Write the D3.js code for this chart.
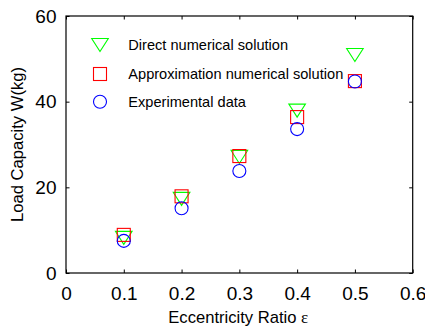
<!DOCTYPE html>
<html>
<head>
<meta charset="utf-8">
<script src="https://cdn.jsdelivr.net/npm/d3@7"></script>
<style>
html,body{margin:0;padding:0;background:#fff;}
svg{display:block;}
text{font-family:"Liberation Sans",Arial,Helvetica,sans-serif;fill:#000;}
</style>
</head>
<body>
<svg id="chart" width="425" height="326"></svg>
<script>
const ratios = [0.1, 0.2, 0.3, 0.4, 0.5];
const directNumerical = [8.2, 17.3, 27.1, 37.9, 50.9];
const approxNumerical = [8.9, 17.9, 27.3, 36.4, 44.8];
const experimental = [7.5, 15.1, 23.8, 33.6, 44.7];
const xTicks = [0, 0.1, 0.2, 0.3, 0.4, 0.5, 0.6];
const yTicks = [0, 20, 40, 60];
const seriesNames = ["Direct numerical solution", "Approximation numerical solution", "Experimental data"];

const svg = d3.select("#chart");
const L = 66, R = 412.7, T = 16, B = 273;
const x = d3.scaleLinear().domain([0, 0.6]).range([L, R]);
const y = d3.scaleLinear().domain([0, 60]).range([B, T]);

const tickLen = 3.5;
const fmtX = d => d === 0 ? "0" : d3.format(".1f")(d);

// bottom axis
const xAxisB = d3.axisBottom(x).tickValues(xTicks).tickFormat(fmtX).tickSizeInner(-tickLen).tickSizeOuter(0).tickPadding(10 + tickLen);
const gxb = svg.append("g").attr("transform", `translate(0,${B})`).call(xAxisB);
gxb.select(".domain").remove();
gxb.selectAll("text").attr("font-size", 19).attr("font-family", "Liberation Sans, Arial, sans-serif").attr("fill", "#000");
gxb.selectAll("line").attr("stroke", "#000");
// top axis ticks
const xAxisT = d3.axisTop(x).tickValues(xTicks).tickFormat("").tickSizeInner(-tickLen).tickSizeOuter(0);
const gxt = svg.append("g").attr("transform", `translate(0,${T})`).call(xAxisT);
gxt.select(".domain").remove();
gxt.selectAll("line").attr("stroke", "#000");
// left axis
const yAxisL = d3.axisLeft(y).tickValues(yTicks).tickFormat(d3.format("d")).tickSizeInner(-tickLen).tickSizeOuter(0).tickPadding(6 + tickLen);
const gyl = svg.append("g").attr("transform", `translate(${L},0)`).call(yAxisL);
gyl.select(".domain").remove();
gyl.selectAll("text").attr("font-size", 19).attr("font-family", "Liberation Sans, Arial, sans-serif").attr("fill", "#000");
gyl.selectAll("line").attr("stroke", "#000");
// right axis ticks
const yAxisR = d3.axisRight(y).tickValues(yTicks).tickFormat("").tickSizeInner(-tickLen).tickSizeOuter(0);
const gyr = svg.append("g").attr("transform", `translate(${R},0)`).call(yAxisR);
gyr.select(".domain").remove();
gyr.selectAll("line").attr("stroke", "#000");

// box
svg.append("rect").attr("x", L).attr("y", T).attr("width", R - L).attr("height", B - T)
  .attr("fill", "none").attr("stroke", "#000").attr("stroke-width", 1.2);

// markers
function triangle(g, cx, cy, color) {
  const w = 8.3, h = 6.5;
  g.append("path").attr("d", `M${cx - w},${cy - h}L${cx + w},${cy - h}L${cx},${cy + h}Z`)
    .attr("fill", "none").attr("stroke", color).attr("stroke-width", 1.1);
}
function square(g, cx, cy, color) {
  const s = 6.5;
  g.append("rect").attr("x", cx - s).attr("y", cy - s).attr("width", 2 * s).attr("height", 2 * s)
    .attr("fill", "none").attr("stroke", color).attr("stroke-width", 1.1);
}
function circle(g, cx, cy, color) {
  g.append("circle").attr("cx", cx).attr("cy", cy).attr("r", 6.5)
    .attr("fill", "none").attr("stroke", color).attr("stroke-width", 1.1);
}
const gm = svg.append("g");
ratios.forEach((r, i) => triangle(gm, x(r), y(directNumerical[i]), "#00ff00"));
ratios.forEach((r, i) => square(gm, x(r), y(approxNumerical[i]), "#ff0000"));
ratios.forEach((r, i) => circle(gm, x(r), y(experimental[i]), "#0000ff"));

// legend
const lg = svg.append("g");
const legY = [45, 74, 101.7];
const markerFns = [triangle, square, circle];
const colors = ["#00ff00", "#ff0000", "#0000ff"];
seriesNames.forEach((name, i) => {
  markerFns[i](lg, 100, legY[i], colors[i]);
  lg.append("text").attr("x", 128.3).attr("y", legY[i] + 5.3).attr("font-size", 14.6).text(name);
});

// axis titles
const xt = svg.append("text").attr("x", 168.3).attr("y", 323).attr("font-size", 16.6);
xt.append("tspan").text("Eccentricity Ratio ");
xt.append("tspan").attr("font-family", "Liberation Serif, serif").attr("font-size", 17).text("ε");

svg.append("text").attr("transform", `translate(23.3,${(T + B) / 2}) rotate(-90)`)
  .attr("text-anchor", "middle").attr("font-size", 16.6).text("Load Capacity W(kg)");
</script>
</body>
</html>
